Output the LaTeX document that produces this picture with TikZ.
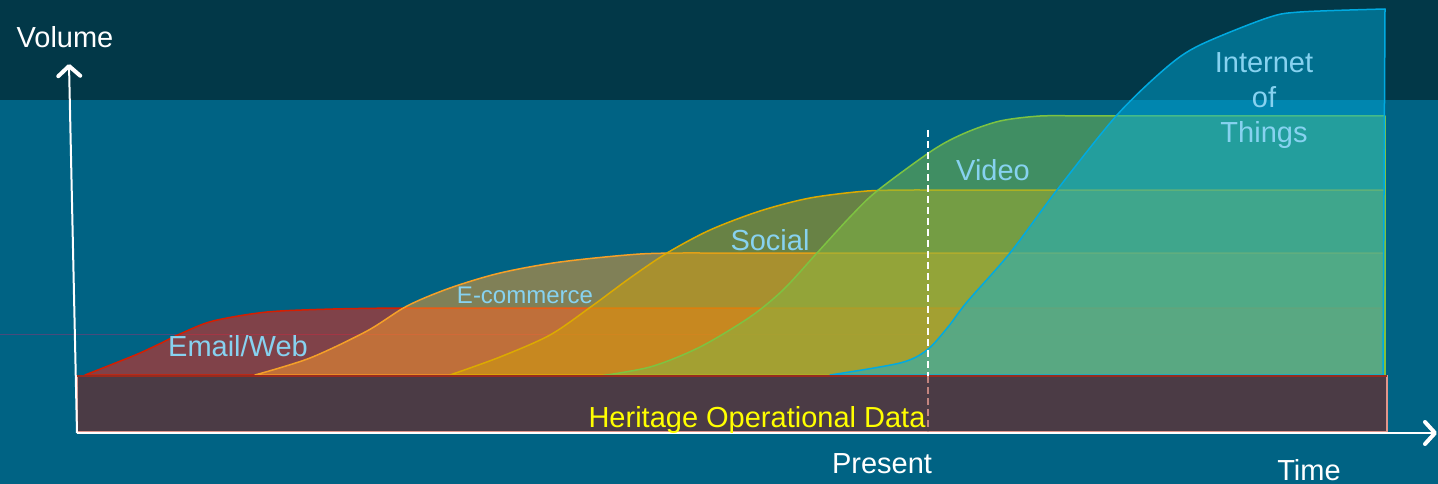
\documentclass[tikz,border=0pt]{standalone}
\usepackage{fontspec}
\setmainfont{Liberation Sans}
\usetikzlibrary{arrows.meta}
\definecolor{bgtop}{RGB}{2,56,72}
\definecolor{bgmain}{RGB}{0,99,132}
\definecolor{emailc}{RGB}{255,35,16}
\definecolor{emailline}{RGB}{215,30,0}
\definecolor{ecomc}{RGB}{255,157,44}
\definecolor{ecomline}{RGB}{245,160,40}
\definecolor{socialc}{RGB}{208,161,8}
\definecolor{socialline}{RGB}{220,170,0}
\definecolor{videoc}{RGB}{128,185,68}
\definecolor{videoline}{RGB}{125,195,65}
\definecolor{iotc}{RGB}{0,178,228}
\definecolor{iotline}{RGB}{0,170,225}
\definecolor{heritage}{RGB}{75,59,69}
\definecolor{heritageedge}{RGB}{225,150,140}
\definecolor{lbl}{RGB}{135,210,240}
\definecolor{guide}{RGB}{120,60,120}
\begin{document}
\begin{tikzpicture}[x=1pt,y=-1pt,
  area/.style={fill opacity=0.5, line width=1.5pt, line join=round},
  lab/.style={text=lbl, font=\fontsize{29}{35}\selectfont, inner sep=0pt},
  axislbl/.style={text=white, font=\fontsize{29}{35}\selectfont, inner sep=0pt},
  axisline/.style={white, line width=2pt, -{Straight Barb[length=10pt,width=22pt,line width=4pt,round]}},
  presentline/.style={white, line width=2pt, dash pattern=on 7pt off 4pt}]
\useasboundingbox (0,0) rectangle (1438,484);
% background
\fill[bgmain] (0,0) rectangle (1438,484);
\fill[bgtop] (0,0) rectangle (1438,100);
% faint guide line
\draw[guide, line width=0.8pt, opacity=0.6] (0,334) -- (1385,334);
% areas
\filldraw[area, fill=emailc, draw=emailline]
  plot[smooth, tension=0.5] coordinates {(85,375) (140,353) (180,334) (213,321) (267,312) (333,309) (400,308)}
  -- (1385,308) -- (1385,375) -- cycle;
\filldraw[area, fill=ecomc, draw=ecomline]
  plot[smooth, tension=0.5] coordinates {(255,375) (310,358) (367,331) (407,306) (450,288) (500,273) (560,262) (640,254) (700,253)}
  -- (1385,253) -- (1385,375) -- cycle;
\filldraw[area, fill=socialc, draw=socialline]
  plot[smooth, tension=0.5] coordinates {(450,375) (500,357) (550,335) (592,306) (630,278) (667,253) (710,230) (760,211) (810,198) (867,191) (920,190)}
  -- (1385,190) -- (1385,375) -- cycle;
\filldraw[area, fill=videoc, draw=videoline]
  plot[smooth, tension=0.5] coordinates {(593,377) (650,367) (700,347) (750,317) (783,290) (817,253) (850,217) (877,191) (933,150) (965,133) (1000,121) (1040,116) (1080,116)}
  -- (1385,116) -- (1385,375) -- cycle;
\filldraw[area, fill opacity=0.45, fill=iotc, draw=iotline]
  plot[smooth, tension=0.5] coordinates {(830,375) (900,363) (927,350) (948,327) (967,302) (1010,253) (1057,190) (1117,115) (1167,67) (1200,45) (1267,18) (1300,12) (1385,9)}
  -- (1383,375) -- cycle;
% heritage block
\filldraw[fill=heritage, draw=heritageedge, line width=1.2pt] (77,376) rectangle (1387,432);
\draw[line width=1.2pt, draw=emailline!55!heritage] (77,376) -- (1387,376);
% present marker
\coordinate (presTop) at (928,130);
\coordinate (presMid) at (928,376);
\coordinate (presBot) at (928,432);
\draw[presentline] (presTop) -- (presMid);
\draw[presentline, draw=heritageedge!80!heritage] (presMid) -- (presBot);
% axes
\coordinate (origin) at (77,433);
\coordinate (ytip) at (69,64);
\coordinate (xtip) at (1437,433);
\draw[axisline] (origin) -- (ytip);
\draw[axisline] (origin) -- (xtip);
% labels
\node[axislbl, anchor=base] (volume) at (65,48) {Volume};
\node[axislbl, anchor=base] (present) at (882,473) {Present};
\node[axislbl, anchor=base] (time) at (1309,480) {Time};
\node[lab, anchor=base] (email) at (238,356) {Email/Web};
\node[lab, anchor=base, font=\fontsize{24}{29}\selectfont] (ecom) at (525,303) {E-commerce};
\node[lab, anchor=base] (social) at (770,250) {Social};
\node[lab, anchor=base] (video) at (993,180) {Video};
\node[lab, align=center, font=\fontsize{29}{35}\selectfont] (iot) at (1264,101) {Internet\\of\\Things};
\node[anchor=base, inner sep=0pt, text={rgb,255:red,255;green,255;blue,0}, font=\fontsize{29}{35}\selectfont] (heritagetext) at (757,427) {Heritage Operational Data};
\end{tikzpicture}
\end{document}
